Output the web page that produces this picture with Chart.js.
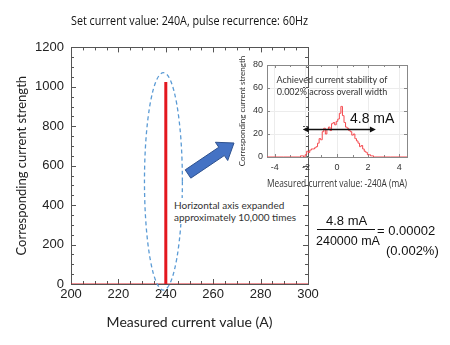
<!DOCTYPE html>
<html>
<head>
<meta charset="utf-8">
<script src="https://cdn.jsdelivr.net/npm/chart.js@4"></script>
<style>
  body { margin: 0; background: #fff; }
  #wrap { position: relative; width: 450px; height: 345px; overflow: hidden; }
  canvas { position: absolute; left: 0; top: 0; }
  .txt { position: absolute; white-space: nowrap; color: #333; }
</style>
</head>
<body>
<div id="wrap">
  <canvas id="mainChart" width="450" height="345"></canvas>
  <canvas id="insetChart" width="450" height="345"></canvas>

  <div class="txt" style="left:172px;top:198px;font:10px Lato;line-height:12px;background:#fff;padding:1px 2px">Horizontal axis expanded<br>approximately 10,000 times</div>
  <div class="txt" style="left:276px;top:74px;width:112px;text-align:center;font:9px Lato;line-height:12px">Achieved current stability of<br>0.002% across overall width</div>
  <div class="txt" style="left:350px;top:110px;font:14px 'Liberation Sans';color:#111">4.8 mA</div>

  <div class="txt" style="left:326px;top:213px;font:13px 'Liberation Sans';color:#111">4.8 mA</div>
  <div style="position:absolute;left:317px;top:229px;width:58px;height:1px;background:#111"></div>
  <div class="txt" style="left:316px;top:234px;font:12.5px 'Liberation Sans';color:#111">240000 mA</div>
  <div class="txt" style="left:377px;top:223px;font:13px 'Liberation Sans';color:#111">= 0.00002</div>
  <div class="txt" style="left:386px;top:243px;font:13px 'Liberation Sans';color:#111">(0.002%)</div>
</div>

<script>
// main chart: measured current at 240 A
const lineX = [240, 240];
const lineY = [0, 1025];
const baseX = [200, 300];
const baseY = [0, 0];
const xTickValues = [200, 220, 240, 260, 280, 300];
const yTickValues = [0, 200, 400, 600, 800, 1000, 1200];

// inset histogram: measured current - 240 A (mA)
const binX = [-4.5, -2.4, -2.3, -2.2, -2.1, -2.0, -1.9, -1.8, -1.7, -1.6, -1.5, -1.4, -1.3, -1.2, -1.1, -1.0,
              -0.9, -0.8, -0.7, -0.6, -0.5, -0.4, -0.3, -0.2, -0.1, 0.0, 0.1, 0.2, 0.3, 0.4, 0.5,
              0.6, 0.7, 0.8, 0.9, 1.0, 1.1, 1.2, 1.3, 1.4, 1.5, 1.6, 1.7, 1.8, 1.9, 2.0,
              2.1, 2.2, 2.3, 2.4, 4.5];
const binCount = [0, 0, 1, 1, 0, 2, 5, 4, 6, 7, 7, 8, 9, 12, 16, 15,
                  22, 25, 20, 24, 26, 23, 29, 30, 28, 31, 33, 38, 44, 36, 30,
                  26, 25, 23, 22, 19, 20, 16, 14, 12, 9, 10, 7, 5, 4, 2,
                  2, 1, 1, 0, 0];
const insetXTicks = [-4, -2, 0, 2, 4];
const insetYTicks = [0, 20, 40, 60, 80];
const spanX = [-2.2, 2.5];
const spanY = 24;

function range(a, b, step) {
    const out = [];
    for (let v = a; v <= b + 1e-9; v += step) out.push(Math.round(v * 100) / 100);
    return out;
}

// box frame with inward ticks on all four sides
const frameTicks = {
    id: 'frameTicks',
    beforeDatasetsDraw(chart, args, opts) {
        const { ctx, chartArea: a, scales: { x, y } } = chart;
        ctx.save();
        ctx.strokeStyle = opts.color;
        ctx.lineWidth = 1;
        ctx.strokeRect(Math.round(a.left) + 0.5, Math.round(a.top) + 0.5,
            Math.round(a.right - a.left), Math.round(a.bottom - a.top));
        ctx.beginPath();
        opts.xMinor.forEach(v => {
            const px = Math.round(x.getPixelForValue(v)) + 0.5;
            const len = opts.xMajor.includes(v) ? opts.majorLen : opts.minorLen;
            ctx.moveTo(px, a.bottom); ctx.lineTo(px, a.bottom - len);
            ctx.moveTo(px, a.top); ctx.lineTo(px, a.top + len);
        });
        opts.yMinor.forEach(v => {
            const py = Math.round(y.getPixelForValue(v)) + 0.5;
            const len = opts.yMajor.includes(v) ? opts.majorLen : opts.minorLen;
            ctx.moveTo(a.left, py); ctx.lineTo(a.left + len, py);
            ctx.moveTo(a.right, py); ctx.lineTo(a.right - len, py);
        });
        ctx.stroke();
        ctx.restore();
    }
};

// dashed ellipse round the peak and the blue pointer arrow
const mainNotes = {
    id: 'mainNotes',
    afterDraw(chart) {
        const { ctx, scales: { x, y } } = chart;
        const cx = x.getPixelForValue(239);
        const top = y.getPixelForValue(1072), bottom = y.getPixelForValue(-31);
        const rx = (x.getPixelForValue(247) - x.getPixelForValue(231)) / 2;
        ctx.save();
        ctx.strokeStyle = '#5b9bd5';
        ctx.lineWidth = 1.3;
        ctx.setLineDash([4, 3]);
        ctx.beginPath();
        ctx.ellipse(cx, (top + bottom) / 2, rx, (bottom - top) / 2, 0, 0, Math.PI * 2);
        ctx.stroke();
        ctx.setLineDash([]);

        const tail = [188, 174], tip = [234, 143];
        const dx = tip[0] - tail[0], dy = tip[1] - tail[1];
        const L = Math.hypot(dx, dy), ux = dx / L, uy = dy / L, nx = -uy, ny = ux;
        const hb = [tip[0] - ux * 15, tip[1] - uy * 15];
        const pts = [
            [tail[0] + nx * 5, tail[1] + ny * 5],
            [hb[0] + nx * 5, hb[1] + ny * 5],
            [hb[0] + nx * 11, hb[1] + ny * 11],
            tip,
            [hb[0] - nx * 11, hb[1] - ny * 11],
            [hb[0] - nx * 5, hb[1] - ny * 5],
            [tail[0] - nx * 5, tail[1] - ny * 5]
        ];
        ctx.beginPath();
        pts.forEach((p, i) => i ? ctx.lineTo(p[0], p[1]) : ctx.moveTo(p[0], p[1]));
        ctx.closePath();
        ctx.fillStyle = '#4472c4';
        ctx.fill();
        ctx.strokeStyle = '#2f528f';
        ctx.lineWidth = 1;
        ctx.stroke();
        ctx.restore();
    }
};

// double-headed width arrow in the inset
const spanArrow = {
    id: 'spanArrow',
    afterDraw(chart) {
        const { ctx, scales: { x, y } } = chart;
        const x1 = x.getPixelForValue(spanX[0]), x2 = x.getPixelForValue(spanX[1]);
        const py = y.getPixelForValue(spanY);
        ctx.save();
        ctx.strokeStyle = '#111';
        ctx.fillStyle = '#111';
        ctx.lineWidth = 1.5;
        ctx.beginPath();
        ctx.moveTo(x1 + 3, py); ctx.lineTo(x2 - 3, py);
        ctx.stroke();
        ctx.beginPath();
        ctx.moveTo(x1, py); ctx.lineTo(x1 + 6, py - 3); ctx.lineTo(x1 + 6, py + 3); ctx.closePath();
        ctx.moveTo(x2, py); ctx.lineTo(x2 - 6, py - 3); ctx.lineTo(x2 - 6, py + 3); ctx.closePath();
        ctx.fill();
        ctx.restore();
    }
};

const plainLabel = v => String(v);

const mainCtx = document.getElementById('mainChart').getContext('2d');
new Chart(mainCtx, {
    type: 'line',
    data: {
        datasets: [{
            data: baseX.map((v, i) => ({ x: v, y: baseY[i] })),
            borderColor: '#d9232b',
            borderWidth: 1,
            pointRadius: 0
        }, {
            data: lineX.map((v, i) => ({ x: v, y: lineY[i] })),
            borderColor: '#e3171f',
            borderWidth: 3,
            pointRadius: 0
        }]
    },
    options: {
        responsive: false,
        animation: false,
        layout: { padding: { left: 10, right: 142, top: 0, bottom: 10 } },
        plugins: {
            legend: { display: false },
            tooltip: { enabled: false },
            title: {
                display: true,
                text: 'Set current value: 240A, pulse recurrence: 60Hz',
                fullSize: false,
                color: '#111',
                font: { family: 'Open Sans', size: 12, weight: 'normal' },
                padding: { top: 14, bottom: 19 }
            },
            frameTicks: {
                color: '#555',
                xMajor: xTickValues, xMinor: range(200, 300, 5),
                yMajor: yTickValues, yMinor: range(0, 1200, 50),
                majorLen: 5, minorLen: 3
            }
        },
        scales: {
            x: {
                type: 'linear', min: 200, max: 300,
                grid: { display: false, drawTicks: false },
                border: { display: false },
                afterBuildTicks: s => { s.ticks = xTickValues.map(v => ({ value: v })); },
                afterFit: s => { s.height = 51; },
                ticks: { color: '#222', padding: 3, callback: plainLabel, font: { family: 'Liberation Sans', size: 13 } },
                title: {
                    display: true, text: 'Measured current value (A)', color: '#222',
                    font: { family: 'Lato', size: 14 }, padding: { top: 4, bottom: 4 }
                }
            },
            y: {
                type: 'linear', min: 0, max: 1200,
                grid: { display: false, drawTicks: false },
                border: { display: false },
                afterBuildTicks: s => { s.ticks = yTickValues.map(v => ({ value: v })); },
                afterFit: s => { s.width = 61; },
                ticks: { color: '#222', padding: 7, callback: plainLabel, font: { family: 'Liberation Sans', size: 13 } },
                title: {
                    display: true, text: 'Corresponding current strength', color: '#222',
                    font: { family: 'Lato', size: 13 }, padding: { top: 4, bottom: 4 }
                }
            }
        }
    },
    plugins: [frameTicks, mainNotes]
});

const insetCtx = document.getElementById('insetChart').getContext('2d');
new Chart(insetCtx, {
    type: 'line',
    data: {
        datasets: [{
            data: binX.map((v, i) => ({ x: v, y: binCount[i] })),
            borderColor: '#f4474c',
            borderWidth: 1,
            stepped: 'middle',
            pointRadius: 0
        }]
    },
    options: {
        responsive: false,
        animation: false,
        layout: { padding: { left: 234, right: 43, top: 65, bottom: 151 } },
        plugins: {
            legend: { display: false },
            tooltip: { enabled: false },
            frameTicks: {
                color: '#888',
                xMajor: insetXTicks, xMinor: range(-4, 4, 1),
                yMajor: insetYTicks, yMinor: insetYTicks,
                majorLen: 3, minorLen: 2
            }
        },
        scales: {
            x: {
                type: 'linear', min: -4.5, max: 4.5,
                grid: { color: '#ececec', drawTicks: false },
                border: { display: false },
                afterBuildTicks: s => { s.ticks = insetXTicks.map(v => ({ value: v })); },
                afterFit: s => { s.height = 37; },
                ticks: { color: '#333', padding: 5, callback: plainLabel, font: { family: 'Liberation Sans', size: 9 } },
                title: {
                    display: true, text: 'Measured current value: -240A (mA)', color: '#333',
                    font: { family: 'Open Sans', size: 10 }, padding: { top: 2, bottom: 4 }
                }
            },
            y: {
                type: 'linear', min: 0, max: 80,
                grid: { color: '#ececec', drawTicks: false },
                border: { display: false },
                afterBuildTicks: s => { s.ticks = insetYTicks.map(v => ({ value: v })); },
                afterFit: s => { s.width = 33; },
                ticks: { color: '#333', padding: 4, callback: plainLabel, font: { family: 'Liberation Sans', size: 9 } },
                title: {
                    display: true, text: 'Corresponding current strength', color: '#333',
                    font: { family: 'Lato', size: 8 }, padding: { top: 4, bottom: 2 }
                }
            }
        }
    },
    plugins: [frameTicks, spanArrow]
});
</script>
</body>
</html>
